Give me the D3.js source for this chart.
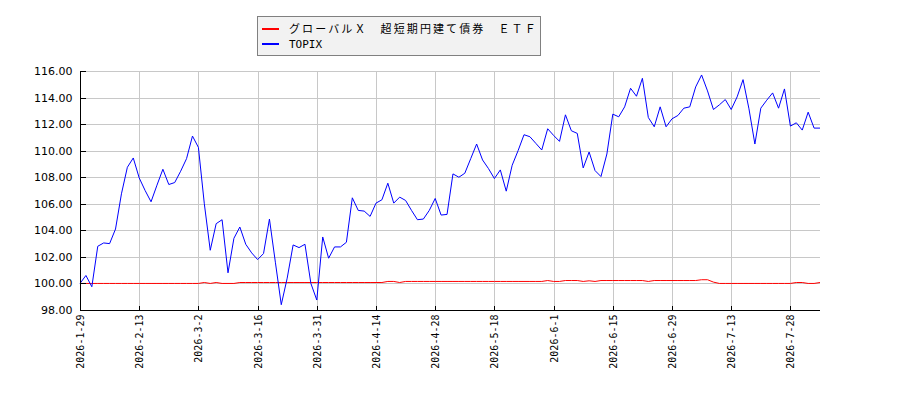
<!DOCTYPE html>
<html>
<head>
<meta charset="utf-8">
<script src="https://cdn.jsdelivr.net/npm/d3@7"></script>
<style>
  body { margin: 0; background: #fff; }
  svg { display: block; }
</style>
</head>
<body>
<svg id="chart" width="900" height="400"></svg>
<script>
// trading days shown on the x axis
const dates = [
  '2026-1-29', '2026-1-30',
  '2026-2-2', '2026-2-3', '2026-2-4', '2026-2-5', '2026-2-6', '2026-2-9', '2026-2-10', '2026-2-12', '2026-2-13',
  '2026-2-16', '2026-2-17', '2026-2-18', '2026-2-19', '2026-2-20', '2026-2-24', '2026-2-25', '2026-2-26', '2026-2-27',
  '2026-3-2', '2026-3-3', '2026-3-4', '2026-3-5', '2026-3-6', '2026-3-9', '2026-3-10', '2026-3-11', '2026-3-12', '2026-3-13',
  '2026-3-16', '2026-3-17', '2026-3-18', '2026-3-19', '2026-3-23', '2026-3-24', '2026-3-25', '2026-3-26', '2026-3-27', '2026-3-30',
  '2026-3-31', '2026-4-1', '2026-4-2', '2026-4-3', '2026-4-6', '2026-4-7', '2026-4-8', '2026-4-9', '2026-4-10', '2026-4-13',
  '2026-4-14', '2026-4-15', '2026-4-16', '2026-4-17', '2026-4-20', '2026-4-21', '2026-4-22', '2026-4-23', '2026-4-24', '2026-4-27',
  '2026-4-28', '2026-4-30', '2026-5-1', '2026-5-7', '2026-5-8', '2026-5-11', '2026-5-12', '2026-5-13', '2026-5-14', '2026-5-15',
  '2026-5-18', '2026-5-19', '2026-5-20', '2026-5-21', '2026-5-22', '2026-5-25', '2026-5-26', '2026-5-27', '2026-5-28', '2026-5-29',
  '2026-6-1', '2026-6-2', '2026-6-3', '2026-6-4', '2026-6-5', '2026-6-8', '2026-6-9', '2026-6-10', '2026-6-11', '2026-6-12',
  '2026-6-15', '2026-6-16', '2026-6-17', '2026-6-18', '2026-6-19', '2026-6-22', '2026-6-23', '2026-6-24', '2026-6-25', '2026-6-26',
  '2026-6-29', '2026-6-30', '2026-7-1', '2026-7-2', '2026-7-3', '2026-7-6', '2026-7-7', '2026-7-8', '2026-7-9', '2026-7-10',
  '2026-7-13', '2026-7-14', '2026-7-15', '2026-7-16', '2026-7-17', '2026-7-21', '2026-7-22', '2026-7-23', '2026-7-24', '2026-7-27',
  '2026-7-28', '2026-7-29', '2026-7-30', '2026-7-31', '2026-8-3', '2026-8-4'
];

const tickDates = [
  '2026-1-29', '2026-2-13', '2026-3-2', '2026-3-16', '2026-3-31', '2026-4-14', '2026-4-28',
  '2026-5-18', '2026-6-1', '2026-6-15', '2026-6-29', '2026-7-13', '2026-7-28'
];

const yTicks = [98, 100, 102, 104, 106, 108, 110, 112, 114, 116];

// グローバルＸ 超短期円建て債券 ＥＴＦ (rebased to 100)
const etfValues = [
  100.0, 100.0, 100.0, 100.0, 100.0, 100.0, 100.0, 100.0, 100.0, 100.0,
  100.0, 100.0, 100.0, 100.0, 100.0, 100.0, 100.0, 100.0, 100.0, 100.0,
  100.0, 100.07, 100.0, 100.07, 100.0, 100.0, 100.0, 100.07, 100.07, 100.07,
  100.07, 100.07, 100.07, 100.07, 100.07, 100.07, 100.07, 100.07, 100.07, 100.07,
  100.07, 100.07, 100.07, 100.07, 100.07, 100.07, 100.07, 100.07, 100.07, 100.07,
  100.07, 100.07, 100.15, 100.15, 100.07, 100.15, 100.15, 100.15, 100.15, 100.15,
  100.15, 100.15, 100.15, 100.15, 100.15, 100.15, 100.15, 100.15, 100.15, 100.15,
  100.15, 100.15, 100.15, 100.15, 100.15, 100.15, 100.15, 100.15, 100.15, 100.22,
  100.15, 100.15, 100.22, 100.22, 100.22, 100.15, 100.2, 100.15, 100.22, 100.22,
  100.22, 100.22, 100.22, 100.22, 100.22, 100.22, 100.15, 100.22, 100.22, 100.22,
  100.22, 100.22, 100.22, 100.22, 100.22, 100.28, 100.28, 100.1, 100.0, 100.0,
  100.0, 100.0, 100.0, 100.0, 100.0, 100.0, 100.0, 100.0, 100.0, 100.0,
  100.0, 100.07, 100.07, 100.0, 100.0, 100.07
];

// TOPIX (rebased to 100)
const topixValues = [
  100.0, 100.6, 99.75, 102.8, 103.05, 103.0, 104.1, 106.75, 108.75, 109.45,
  107.95, 107.0, 106.15, 107.4, 108.6, 107.45, 107.6, 108.45, 109.4, 111.1,
  110.25, 106.0, 102.5, 104.5, 104.8, 100.8, 103.4, 104.25, 102.95, 102.3,
  101.8, 102.25, 104.85, 101.6, 98.4, 100.4, 102.9, 102.7, 102.95, 100.0,
  98.75, 103.5, 101.9, 102.75, 102.75, 103.1, 106.45, 105.5, 105.45, 105.05,
  106.05, 106.3, 107.55, 106.05, 106.5, 106.25, 105.5, 104.8, 104.85, 105.5,
  106.4, 105.15, 105.2, 108.25, 108.0, 108.3, 109.4, 110.5, 109.3, 108.65,
  107.9, 108.55, 106.95, 108.9, 110.0, 111.2, 111.05, 110.55, 110.05, 111.65,
  111.15, 110.7, 112.7, 111.5, 111.3, 108.7, 109.9, 108.5, 108.05, 109.75,
  112.75, 112.55, 113.3, 114.7, 114.1, 115.45, 112.5, 111.8, 113.3, 111.8,
  112.4, 112.65, 113.2, 113.3, 114.8, 115.7, 114.5, 113.1, 113.45, 113.85,
  113.1, 114.05, 115.35, 113.15, 110.5, 113.2, 113.8, 114.35, 113.2, 114.65,
  111.85, 112.1, 111.55, 112.9, 111.7, 111.7
];

const seriesNames = ['グローバルＸ　超短期円建て債券　ＥＴＦ', 'TOPIX'];
const seriesColors = ['#ff0000', '#0000ff'];

const svg = d3.select('#chart');
const margin = { top: 71, right: 80, bottom: 90, left: 80 };
const width = +svg.attr('width');
const height = +svg.attr('height');

const x = d3.scalePoint().domain(dates).range([margin.left, width - margin.right]);
const y = d3.scaleLinear().domain([98, 116]).range([height - margin.bottom, margin.top]);

// grid
const grid = svg.append('g').attr('shape-rendering', 'crispEdges');
grid.selectAll('.hgrid')
  .data(yTicks)
  .enter()
  .append('line')
  .attr('x1', margin.left)
  .attr('x2', width - margin.right)
  .attr('y1', d => Math.round(y(d)) + 0.5)
  .attr('y2', d => Math.round(y(d)) + 0.5)
  .attr('stroke', '#c8c8c8');
grid.selectAll('.vgrid')
  .data(tickDates)
  .enter()
  .append('line')
  .attr('x1', d => Math.round(x(d)) + 0.5)
  .attr('x2', d => Math.round(x(d)) + 0.5)
  .attr('y1', margin.top)
  .attr('y2', height - margin.bottom)
  .attr('stroke', '#c8c8c8');

// lines
const line = d3.line()
  .x((d, i) => x(dates[i]))
  .y(d => y(d));

[etfValues, topixValues].forEach((vals, k) => {
  svg.append('path')
    .datum(vals)
    .attr('fill', 'none')
    .attr('stroke', seriesColors[k])
    .attr('stroke-width', 1)
    .attr('d', line);
});

// axes
const yAxis = d3.axisLeft(y).tickValues(yTicks).tickSize(-5).tickPadding(8)
  .tickFormat(d => d.toFixed(2));
const yG = svg.append('g')
  .attr('transform', `translate(${margin.left + 0.5},0)`)
  .attr('shape-rendering', 'crispEdges')
  .call(yAxis);
yG.select('.domain').attr('d', `M0,${margin.top}V${height - margin.bottom}`);
yG.selectAll('text')
  .attr('font-family', '"DejaVu Sans", sans-serif')
  .attr('font-size', 11)
  .attr('fill', '#000');

const xAxis = d3.axisBottom(x).tickValues(tickDates).tickSize(-5);
const xG = svg.append('g')
  .attr('transform', `translate(0,${height - margin.bottom + 0.5})`)
  .attr('shape-rendering', 'crispEdges')
  .call(xAxis);
xG.select('.domain').attr('d', `M${margin.left},0H${width - margin.right}`);
xG.selectAll('text')
  .attr('font-family', '"DejaVu Sans Mono", monospace')
  .attr('font-size', 10)
  .attr('fill', '#000')
  .attr('text-anchor', 'end')
  .attr('transform', 'rotate(-90)')
  .attr('x', -4)
  .attr('y', 0)
  .attr('dy', '0.35em');

// legend
const legend = svg.append('g');
legend.append('rect')
  .attr('x', 257.5)
  .attr('y', 16.5)
  .attr('width', 283)
  .attr('height', 39)
  .attr('fill', '#f2f2f2')
  .attr('stroke', '#808080');
seriesNames.forEach((name, k) => {
  const ly = 29 + k * 15;
  legend.append('line')
    .attr('x1', 262)
    .attr('x2', 279)
    .attr('y1', ly)
    .attr('y2', ly)
    .attr('stroke', seriesColors[k])
    .attr('stroke-width', 2);
  legend.append('text')
    .attr('x', 289)
    .attr('y', ly + 4)
    .attr('font-family', '"DejaVu Sans Mono", "Noto Sans CJK JP", monospace')
    .attr('font-size', 11)
    .attr('letter-spacing', k === 0 ? 2.1 : 0)
    .attr('fill', '#000')
    .text(name);
});
</script>
</body>
</html>
